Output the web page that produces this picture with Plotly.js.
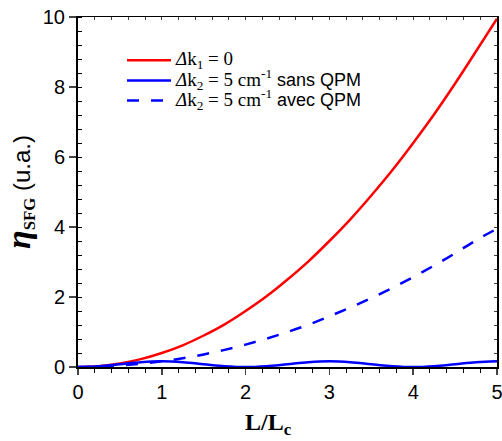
<!DOCTYPE html>
<html>
<head>
<meta charset="utf-8">
<script src="https://cdn.plot.ly/plotly-3.0.1.min.js"></script>
<style>html,body{margin:0;padding:0;background:#fff;overflow:hidden;}#chart{width:502px;height:441px;}</style>
</head>
<body>
<div id="chart"></div>
<script>
// L/Lc positions
const xVals = [0, 0.25, 0.5, 0.75, 1, 1.25, 1.5, 1.75, 2, 2.25, 2.5, 2.75, 3, 3.25, 3.5, 3.75, 4, 4.25, 4.5, 4.75, 5];
// Δk1 = 0
const perfectVals = [0, 0.025, 0.1, 0.225, 0.4, 0.62, 0.9, 1.22, 1.6, 2.02, 2.5, 3.02, 3.6, 4.22, 4.9, 5.62, 6.4, 7.22, 8.1, 9.02, 9.95];
// Δk2 = 5 cm-1 sans QPM
const noQpmVals = [0, 0.024, 0.081, 0.138, 0.162, 0.138, 0.081, 0.024, 0, 0.024, 0.081, 0.138, 0.162, 0.138, 0.081, 0.024, 0, 0.024, 0.081, 0.138, 0.162];
// Δk2 = 5 cm-1 avec QPM
const qpmVals = [0, 0.012, 0.045, 0.095, 0.162, 0.25, 0.36, 0.49, 0.64, 0.81, 1.0, 1.21, 1.45, 1.7, 1.97, 2.26, 2.57, 2.9, 3.25, 3.62, 3.95];

const serif = "<span style='font-family:Liberation Serif;font-size:19px'>";
const sans = "<span style='font-size:18px'>";
const legendNames = [
  serif + "<i>Δ</i>k<sub>1</sub> = 0</span>",
  serif + "<i>Δ</i>k<sub>2</sub> = 5 cm<sup>-1</sup></span>" + sans + " sans QPM</span>",
  serif + "<i>Δ</i>k<sub>2</sub> = 5 cm<sup>-1</sup></span>" + sans + " avec QPM</span>"
];
const xTickVals = [0, 1, 2, 3, 4, 5];
const yTickVals = [0, 2, 4, 6, 8, 10];

const traces = [
  {x: xVals, y: perfectVals, name: legendNames[0], mode: 'lines', line: {color: '#ff0000', width: 2.5, shape: 'spline'}},
  {x: xVals, y: noQpmVals, name: legendNames[1], mode: 'lines', line: {color: '#0000ff', width: 2.5, shape: 'spline'}},
  {x: xVals, y: qpmVals, name: legendNames[2], mode: 'lines', line: {color: '#0000ff', width: 2.5, dash: '12px,12px', shape: 'spline'}},
  // mirror axes (top / right) holders
  {x: [0, 5], y: [0, 10], xaxis: 'x2', yaxis: 'y2', mode: 'none', showlegend: false, hoverinfo: 'skip'}
];

const layout = {
  width: 502, height: 441,
  margin: {l: 78, r: 5, t: 17, b: 74},
  paper_bgcolor: '#fff', plot_bgcolor: '#fff',
  font: {family: 'Liberation Sans, Arial, sans-serif', color: '#000', size: 18},
  showlegend: true,
  legend: {x: 0.105, y: 0.919, xanchor: 'left', yanchor: 'top', bgcolor: 'rgba(0,0,0,0)',
           font: {size: 13.1, family: 'Liberation Sans, Arial, sans-serif'}, itemwidth: 44, tracegroupgap: 0},
  xaxis: {
    range: [0, 5], tickvals: xTickVals, ticks: 'outside', ticklen: 6, tickwidth: 1.5,
    showline: true, linewidth: 2, linecolor: '#000', showgrid: false, zeroline: false,
    tickfont: {size: 20}, ticklabeloverflow: 'allow',
    minor: {dtick: 0.2, ticks: 'outside', ticklen: 4, tickwidth: 1, tickcolor: '#000', showgrid: false}
  },
  yaxis: {
    range: [0, 10], tickvals: yTickVals, ticks: 'outside', ticklen: 7, tickwidth: 1.5,
    showline: true, linewidth: 2, linecolor: '#000', showgrid: false, zeroline: false,
    tickfont: {size: 20}, ticklabeloverflow: 'allow',
    minor: {dtick: 0.4, ticks: 'inside', ticklen: 4, tickwidth: 1, tickcolor: '#000', showgrid: false},
    title: {text: "<span style='font-family:Liberation Serif;font-size:34px'><b><i>η</i></b></span><span style='font-family:Liberation Serif'><sub><b>SFG</b></sub></span> (u.a.)",
            font: {size: 24}, standoff: 6}
  },
  xaxis2: {overlaying: 'x', side: 'top', range: [0, 5], dtick: 0.2, tick0: 0, ticks: 'inside', ticklen: 3, tickwidth: 1,
           showticklabels: false, showline: true, linewidth: 1.5, linecolor: '#000', showgrid: false, zeroline: false},
  yaxis2: {overlaying: 'y', side: 'right', range: [0, 10], dtick: 0.4, tick0: 0, ticks: 'inside', ticklen: 3, tickwidth: 1,
           showticklabels: false, showline: true, linewidth: 1.5, linecolor: '#000', showgrid: false, zeroline: false},
  annotations: [
    {xref: 'paper', yref: 'paper', x: 0.455, y: 0, yshift: -40, xanchor: 'center', yanchor: 'top', showarrow: false,
     text: "<b>L/L<sub>c</sub></b>", font: {family: 'Liberation Serif, Times New Roman, serif', size: 24}}
  ]
};

Plotly.newPlot('chart', traces, layout, {displayModeBar: false, staticPlot: true});
</script>
</body>
</html>
